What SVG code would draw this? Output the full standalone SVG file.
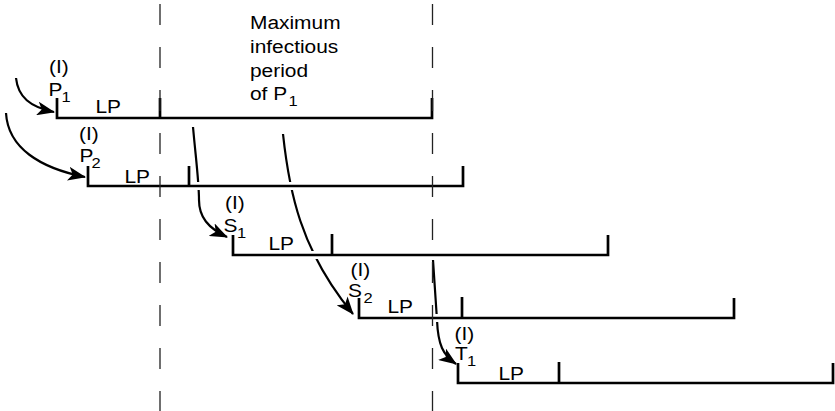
<svg xmlns="http://www.w3.org/2000/svg" width="835" height="411" viewBox="0 0 835 411">
  <style>
    text { font-family: "Liberation Sans", Arial, Helvetica, sans-serif; fill: #000; }
    .t { font-size: 19px; }
    .s { font-size: 15px; }
    .bar { fill: none; stroke: #000; stroke-width: 2.7; stroke-linejoin: miter; }
    .halo { fill: none; stroke: #fff; stroke-width: 8; }
    .link { fill: none; stroke: #000; stroke-width: 2.2; }
    .guide { fill: none; stroke: #222; stroke-width: 1.3; stroke-dasharray: 21 22; }
  </style>
  <defs>
    <marker id="head" viewBox="0 0 18 14" refX="17" refY="7" markerWidth="18" markerHeight="14" markerUnits="userSpaceOnUse" orient="auto">
      <path d="M0,0 L18,7 L0,14 L4.5,7 z" fill="#000"/>
    </marker>
  </defs>

  <rect width="835" height="411" fill="#fff"/>

  <!-- transmission arrows -->
  <g id="connectors">
    <path class="link" d="M16,78 C18,97 30,107 54,112" marker-end="url(#head)"/>
    <path class="link" d="M6,113 C8,148 40,168 85,177" marker-end="url(#head)"/>
    <path class="link" d="M193,127 C196,160 199,182 199,200 C199,217 208,228 227,237" marker-end="url(#head)"/>
    <path class="link" d="M283,134 C289,190 300,250 353,314" marker-end="url(#head)"/>
    <path class="link" d="M433,260 L437,320 C438,345 443,355 456,364" marker-end="url(#head)"/>
  </g>

  <!-- primary case 1 -->
  <g id="P1">
    <line class="halo" x1="57" y1="118" x2="432" y2="118"/>
    <polyline class="bar" points="57,98 57,118 432,118 432,98"/>
    <line class="bar" x1="160" y1="98" x2="160" y2="118"/>
    <text class="t" transform="translate(49 73) scale(1.1 1)">(I)</text>
    <text class="t" transform="translate(48.5 96) scale(1.1 1)">P</text>
    <text class="s" transform="translate(61.5 102) scale(1.1 1)">1</text>
    <text class="t" transform="translate(95.5 113) scale(1.1 1)">LP</text>
  </g>

  <!-- primary case 2 -->
  <g id="P2">
    <line class="halo" x1="88" y1="186" x2="463" y2="186"/>
    <polyline class="bar" points="88,166 88,186 463,186 463,166"/>
    <line class="bar" x1="189" y1="166" x2="189" y2="186"/>
    <text class="t" transform="translate(79 140) scale(1.1 1)">(I)</text>
    <text class="t" transform="translate(79.5 162) scale(1.1 1)">P</text>
    <text class="s" transform="translate(91.5 168) scale(1.1 1)">2</text>
    <text class="t" transform="translate(124.5 183) scale(1.1 1)">LP</text>
  </g>

  <!-- secondary case 1 -->
  <g id="S1">
    <line class="halo" x1="233" y1="255" x2="608" y2="255"/>
    <polyline class="bar" points="233,235 233,255 608,255 608,235"/>
    <line class="bar" x1="332" y1="234" x2="332" y2="255"/>
    <text class="t" transform="translate(225 209) scale(1.1 1)">(I)</text>
    <text class="t" transform="translate(223.5 232) scale(1.1 1)">S</text>
    <text class="s" transform="translate(237 238) scale(1.1 1)">1</text>
    <text class="t" transform="translate(268.5 250) scale(1.1 1)">LP</text>
  </g>

  <!-- secondary case 2 -->
  <g id="S2">
    <line class="halo" x1="359" y1="318" x2="734" y2="318"/>
    <polyline class="bar" points="359,298 359,318 734,318 734,298"/>
    <line class="bar" x1="462" y1="297" x2="462" y2="318"/>
    <text class="t" transform="translate(350.5 276) scale(1.1 1)">(I)</text>
    <text class="t" transform="translate(348 297) scale(1.1 1)">S</text>
    <text class="s" transform="translate(363.5 303) scale(1.1 1)">2</text>
    <text class="t" transform="translate(387.5 313) scale(1.1 1)">LP</text>
  </g>

  <!-- tertiary case 1 -->
  <g id="T1">
    <line class="halo" x1="458" y1="383" x2="833" y2="383"/>
    <polyline class="bar" points="458,363 458,383 833,383 833,363"/>
    <line class="bar" x1="559" y1="362" x2="559" y2="383"/>
    <text class="t" transform="translate(454.5 340) scale(1.1 1)">(I)</text>
    <text class="t" transform="translate(455 360) scale(1.1 1)">T</text>
    <text class="s" transform="translate(467 366) scale(1.1 1)">1</text>
    <text class="t" transform="translate(498.5 380) scale(1.1 1)">LP</text>
  </g>

  <!-- bounds of the maximum infectious period of P1 -->
  <g id="period">
    <line class="guide" x1="160" y1="4" x2="160" y2="411"/>
    <line class="guide" x1="432.5" y1="4" x2="432.5" y2="411"/>
    <text class="t" transform="translate(250 28.5) scale(1.1 1)">Maximum</text>
    <text class="t" transform="translate(250 52.5) scale(1.1 1)">infectious</text>
    <text class="t" transform="translate(250 76.5) scale(1.1 1)">period</text>
    <text class="t" transform="translate(250 100) scale(1.1 1)">of P</text>
    <text class="s" transform="translate(288.5 106) scale(1.1 1)">1</text>
  </g>
</svg>
